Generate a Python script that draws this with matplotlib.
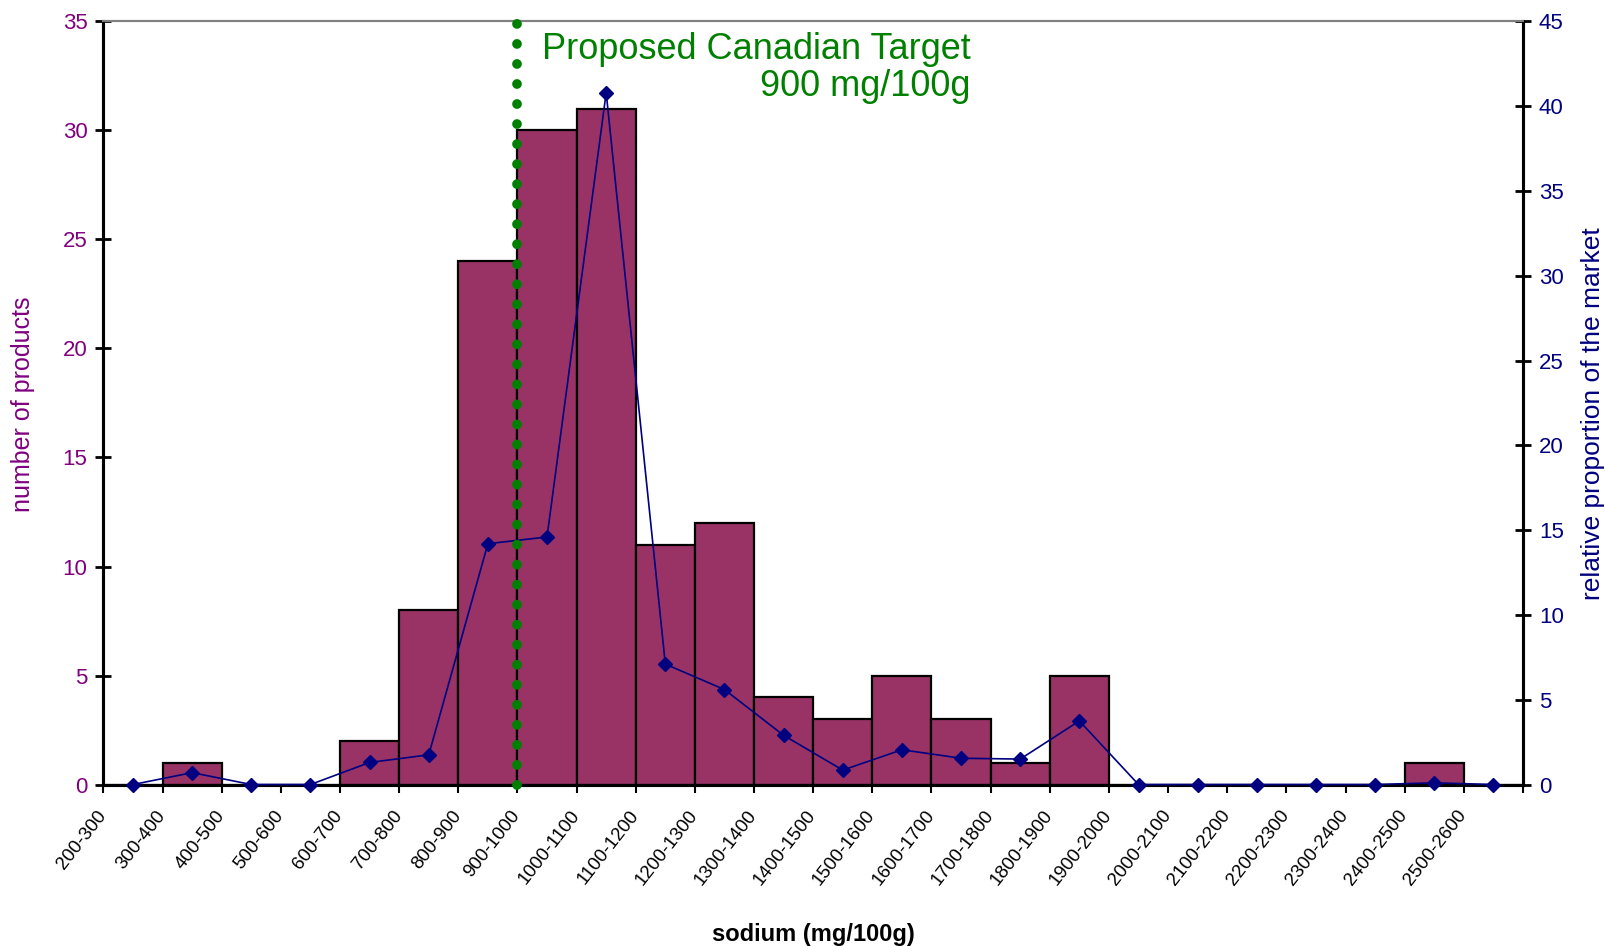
import matplotlib.pyplot as plt
from matplotlib.transforms import ScaledTranslation
import numpy as np

plt.rcParams['font.family'] = ['Liberation Sans', 'DejaVu Sans']

# sodium bins (mg/100g), 100 mg wide
bin_start = [200, 300, 400, 500, 600, 700, 800, 900, 1000, 1100, 1200, 1300,
             1400, 1500, 1600, 1700, 1800, 1900, 2000, 2100, 2200, 2300, 2400, 2500]
bin_labels = ['200-300', '300-400', '400-500', '500-600', '600-700', '700-800',
              '800-900', '900-1000', '1000-1100', '1100-1200', '1200-1300', '1300-1400',
              '1400-1500', '1500-1600', '1600-1700', '1700-1800', '1800-1900', '1900-2000',
              '2000-2100', '2100-2200', '2200-2300', '2300-2400', '2400-2500', '2500-2600']
# number of products per bin (left axis)
n_products = [0, 1, 0, 0, 2, 8, 24, 30, 31, 11, 12, 4,
              3, 5, 3, 1, 5, 0, 0, 0, 0, 0, 1, 0]
# relative proportion of the market, % (right axis)
market_share = [0, 0.7, 0, 0, 1.3, 1.75, 14.2, 14.6, 40.8, 7.1, 5.6, 2.9,
                0.85, 2.05, 1.55, 1.5, 3.75, 0, 0, 0, 0, 0, 0.1, 0]
target = 900

bar_col = '#993366'
navy = '#000080'
purple = '#800080'
green = '#008000'

bin_width = 100
centers = np.array(bin_start) + bin_width / 2

fig = plt.figure(figsize=(16.06, 9.46), dpi=100)
ax = fig.add_axes([0.0644, 0.1707, 0.8839, 0.8066])
ax2 = ax.twinx()

ax.bar(centers, n_products, width=bin_width, color=bar_col, edgecolor='black', linewidth=1.6, zorder=2)
ax.set_xlim(bin_start[0], bin_start[-1] + bin_width)
ax.set_ylim(0, 35)
ax.set_yticks(range(0, 36, 5))

ax2.plot(centers, market_share, color=navy, linewidth=1.2, marker='D', markersize=7,
         markerfacecolor=navy, markeredgecolor=navy, clip_on=False, zorder=3)
ax2.set_ylim(0, 45)
ax2.set_yticks(range(0, 46, 5))

# proposed target line
ax2.plot([target, target], [0, 46], color=green, linewidth=7,
         linestyle=(0, (0.01, 2.05)), dash_capstyle='round', clip_on=False, zorder=4)
ax2.text(0.611, 0.986, 'Proposed Canadian Target\n900 mg/100g', transform=ax.transAxes,
         ha='right', va='top', multialignment='right', color=green, fontsize=26,
         linespacing=1.05, zorder=5)

# x axis: ticks at bin edges, labels under the bins
edges = list(bin_start) + [bin_start[-1] + bin_width]
ax.set_xticks(edges, minor=True)
ax.set_xticks(centers)
ax.set_xticklabels(bin_labels, rotation=52, ha='right', va='center',
                   rotation_mode='anchor', fontsize=13.5)
ax.tick_params(axis='x', which='major', length=0, pad=20)
ax.tick_params(axis='x', which='minor', direction='out', length=6, width=1.5)
shift = ScaledTranslation(-30 / 100, 0, fig.dpi_scale_trans)
for lbl in ax.get_xticklabels():
    lbl.set_transform(lbl.get_transform() + shift)

ax.tick_params(axis='y', direction='inout', length=11, width=2, labelsize=16,
               labelcolor=purple, pad=6)
ax2.tick_params(axis='y', direction='inout', length=11, width=2, labelsize=16,
                labelcolor=navy, pad=6)

for a in (ax, ax2):
    a.spines['top'].set_color('#808080')
    a.spines['top'].set_linewidth(1.5)
    for s in ('left', 'right', 'bottom'):
        a.spines[s].set_linewidth(2.2)
        a.spines[s].set_color('black')

ax.set_ylabel('number of products', color=purple, fontsize=18)
ax.yaxis.label.set_va('center')
ax.yaxis.set_label_coords(-0.057, 0.498)
ax2.set_ylabel('relative proportion of the market', color=navy, fontsize=19)
ax2.yaxis.label.set_va('center')
ax2.yaxis.set_label_coords(1.0495, 0.486)
ax.set_xlabel('sodium (mg/100g)', fontweight='bold', fontsize=17)
ax.xaxis.set_label_coords(0.5, -0.182)

fig.savefig('out.png', dpi=100)
